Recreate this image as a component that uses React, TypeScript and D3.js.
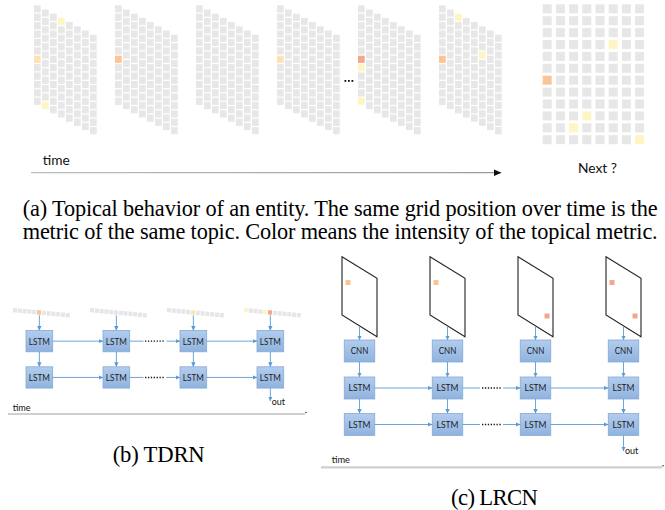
import React from 'react';
import * as d3 from 'd3';

const W = 665;
const H = 510;

// intensity levels of the topical metric
const intensityLevels = [1, 2, 3, 4];
const intensityColors = ['#fff4c4', '#fde3b2', '#f9c496', '#f4a88b'];

// (a) sequence of topic grids: [column, row, intensity]
const frame1 = [[0, 6, 2], [3, 0, 1], [1, 11, 1]];
const frame2 = [[0, 6, 3]];
const frame3: number[][] = [];
const frame4 = [[0, 6, 2]];
const frame5 = [[0, 6, 4], [0, 7, 1], [0, 11, 1]];
const frame6 = [[0, 6, 3], [2, 0, 1], [5, 3, 1]];
const sequenceFrames = [frame1, frame2, frame3, frame4, frame5, frame6];
const nextFrame = [[0, 6, 3], [5, 3, 1], [3, 9, 1], [2, 10, 1], [7, 11, 1]];
const gridCols = d3.range(8);
const gridRows = d3.range(12);

// (b) TDRN: flattened strips per time step: [cell, intensity]
const tdrnStrips = [[[5, 3]], [], [[5, 2]], [[0, 1], [4, 1], [5, 4]]];
const stripCells = d3.range(12);

// (c) LRCN: squares per frame: [corner (0 upper-left, 1 lower-right), intensity]
const lrcnFrames = [[[0, 3]], [[0, 3]], [[1, 4]], [[0, 4], [1, 4]]];

// captions
const captionA1 = '(a) Topical behavior of an entity. The same grid position over time is the';
const captionA2 = 'metric of the same topic. Color means the intensity of the topical metric.';
const captionB = '(b) TDRN';
const captionC = '(c) LRCN';

const color = d3.scaleOrdinal<number, string>().domain(intensityLevels).range(intensityColors);

const frameX = d3.scaleLinear().domain([0, 5]).range([34, 439]);
const colX = d3.scaleLinear().domain([0, 7]).range([0, 56]);
const rowY = d3.scaleLinear().domain([0, 11]).range([5.3, 97.7]);
const colShift = d3.scaleLinear().domain([0, 7]).range([0, 29.4]);

const nextX = d3.scaleLinear().domain([0, 7]).range([542.7, 635.1]);
const nextY = d3.scaleLinear().domain([0, 11]).range([4.3, 135.2]);

const tdrnX = d3.scaleLinear().domain([0, 3]).range([26, 257]);
const stripX = d3.scaleLinear().domain([0, 11]).range([0, 52.8]);
const stripY = d3.scaleLinear().domain([0, 11]).range([308, 313]);

const lrcnCX = d3.scaleLinear().domain([0, 3]).range([359.5, 623.5]);

const sans = 'Lato, "Open Sans", sans-serif';
const serif = "'Liberation Serif', 'Times New Roman', serif";
const blue = '#5b9bd5';

function Box({ x, y, w, h, label, tl }: { x: number; y: number; w: number; h: number; label: string; tl: number }) {
  return (
    <g>
      <rect x={x} y={y} width={w} height={h} fill="url(#boxGrad)" stroke="#86aad6" strokeWidth={0.8} />
      <text x={x + w / 2} y={y + h / 2 + 3.4} textAnchor="middle" fontFamily={sans} fontSize={9.5}
        fill="#1d1d1d" textLength={tl} lengthAdjust="spacingAndGlyphs">{label}</text>
    </g>
  );
}

function Arrow({ x1, y1, x2, y2 }: { x1: number; y1: number; x2: number; y2: number }) {
  return <line x1={x1} y1={y1} x2={x2} y2={y2} stroke={blue} strokeWidth={0.9} markerEnd="url(#blueHead)" />;
}

function Caption({ x, y, size, len, children }: { x: number; y: number; size: number; len: number; children: string }) {
  return (
    <text x={x} y={y} style={{ fontFamily: serif, fontSize: size }} fill="#000" textLength={len}
      lengthAdjust="spacing">{children}</text>
  );
}

export default function App() {
  const cellW = 6.7;
  const cellH = 7.2;

  // TDRN geometry
  const tW = 26.7, tH = 21.3;
  const tRow1 = 330.5, tRow2 = 366.8;

  // LRCN geometry
  const cW = 30.5, cH = 22;
  const cnnY = 340, lRow1 = 377, lRow2 = 413.5;

  return (
    <svg width={W} height={H} viewBox={`0 0 ${W} ${H}`}
      style={{ position: 'absolute', left: 0, top: 0, background: '#fff' }}>
      <defs>
        <marker id="blueHead" markerUnits="userSpaceOnUse" markerWidth={5} markerHeight={5} refX={4.5} refY={2.5} orient="auto">
          <path d="M0,0.3 L4.8,2.5 L0,4.7 z" fill={blue} />
        </marker>
        <marker id="blackHead" markerUnits="userSpaceOnUse" markerWidth={8} markerHeight={8} refX={7} refY={4} orient="auto">
          <path d="M0,0.8 L7.5,4 L0,7.2 z" fill="#111" />
        </marker>
        <linearGradient id="boxGrad" x1="0" y1="0" x2="0" y2="1">
          <stop offset="0" stopColor="#b2cced" />
          <stop offset="1" stopColor="#8fb3df" />
        </linearGradient>
        <linearGradient id="timeGrad" gradientUnits="userSpaceOnUse" x1={31} y1={0} x2={501} y2={0}>
          <stop offset="0" stopColor="#bdbdbd" />
          <stop offset="1" stopColor="#9c9c9c" />
        </linearGradient>
      </defs>

      {/* (a) sequence of grids */}
      {sequenceFrames.map((frame, fi) => {
        const x0 = frameX(fi);
        return (
          <g key={fi}>
            {gridCols.map(c => gridRows.map(r => {
              const hit = frame.find(h => h[0] === c && h[1] === r);
              return (
                <rect key={`${c}-${r}`} x={x0 + colX(c)} y={rowY(r) + colShift(c)} width={cellW} height={cellH}
                  fill={hit ? color(hit[2]) : '#e7e7e7'} />
              );
            }))}
          </g>
        );
      })}
      {[344.5, 348, 351.5].map((x, i) => (
        <rect key={i} x={x} y={80} width={1.8} height={1.8} fill="#111" />
      ))}

      {/* next grid */}
      {gridCols.map(c => gridRows.map(r => {
        const hit = nextFrame.find(h => h[0] === c && h[1] === r);
        return (
          <rect key={`n${c}-${r}`} x={nextX(c)} y={nextY(r)} width={9} height={9}
            fill={hit ? color(hit[2]) : '#e7e7e7'} />
        );
      }))}

      <text x={42.7} y={165} fontFamily={sans} fontSize={13} fill="#111" textLength={27} lengthAdjust="spacingAndGlyphs">time</text>
      <line x1={31} y1={172.7} x2={501} y2={172.7} stroke="url(#timeGrad)" strokeWidth={1.3} markerEnd="url(#blackHead)" />
      <text x={578} y={173} fontFamily={sans} fontSize={13.5} fill="#111" textLength={39} lengthAdjust="spacingAndGlyphs">Next ?</text>

      <Caption x={22.7} y={216} size={22.3} len={635}>{captionA1}</Caption>
      <Caption x={22.7} y={239} size={22.3} len={635}>{captionA2}</Caption>

      {/* (b) TDRN */}
      {tdrnStrips.map((strip, i) => {
        const bx = tdrnX(i);
        const cx = bx + tW / 2;
        const sx = bx - 13;
        return (
          <g key={`t${i}`}>
            {stripCells.map(k => {
              const hit = strip.find(h => h[0] === k);
              return (
                <rect key={k} x={sx + stripX(k)} y={stripY(k)} width={4} height={4.4}
                  fill={hit ? color(hit[1]) : '#e6e6e6'} />
              );
            })}
            <Arrow x1={cx} y1={stripY(5) + 5} x2={cx} y2={tRow1} />
            <Box x={bx} y={tRow1} w={tW} h={tH} label="LSTM" tl={21} />
            <Arrow x1={cx} y1={tRow1 + tH} x2={cx} y2={tRow2} />
            <Box x={bx} y={tRow2} w={tW} h={tH} label="LSTM" tl={21} />
            {i === 3 && (
              <g>
                <Arrow x1={cx} y1={tRow2 + tH} x2={cx} y2={401} />
                <text x={271.7} y={405} fontFamily={sans} fontSize={9} fill="#111">out</text>
              </g>
            )}
          </g>
        );
      })}
      {[tRow1 + tH / 2, tRow2 + tH / 2].map((y, ri) => (
        <g key={`th${ri}`}>
          <Arrow x1={tdrnX(0) + tW} y1={y} x2={tdrnX(1)} y2={y} />
          <line x1={tdrnX(1) + tW} y1={y} x2={143.5} y2={y} stroke={blue} strokeWidth={0.9} />
          <line x1={145} y1={y} x2={164} y2={y} stroke="#111" strokeWidth={1.4} strokeDasharray="1.3,1.6" />
          <Arrow x1={166.5} y1={y} x2={tdrnX(2)} y2={y} />
          <Arrow x1={tdrnX(2) + tW} y1={y} x2={tdrnX(3)} y2={y} />
        </g>
      ))}
      <text x={12.7} y={410.5} fontFamily={sans} fontSize={9} fill="#111" textLength={18} lengthAdjust="spacingAndGlyphs">time</text>
      <line x1={8} y1={414} x2={305} y2={414} stroke="#cfcfcf" strokeWidth={2.2} />
      <circle cx={306} cy={412.5} r={0.8} fill="#333" />

      <Caption x={112.7} y={461.5} size={22.7} len={92}>{captionB}</Caption>

      {/* (c) LRCN */}
      {lrcnFrames.map((sq, i) => {
        const cx = lrcnCX(i);
        const L = cx - 17.5;
        const pts: [number, number][] = [[L, 256.7], [L + 35, 278.3], [L + 35, 336.7], [L, 315]];
        const bx = cx - cW / 2;
        return (
          <g key={`c${i}`}>
            <polygon points={pts.map(p => p.join(',')).join(' ')} fill="#fff" stroke="#222" strokeWidth={1.1} />
            {sq.map((s, k) => (
              <rect key={k} x={s[0] === 0 ? L + 3.5 : L + 26.5} y={s[0] === 0 ? 280 : 313.5} width={5} height={5}
                fill={color(s[1])} />
            ))}
            <Arrow x1={cx} y1={326.5} x2={cx} y2={cnnY} />
            <Box x={bx} y={cnnY} w={cW} h={cH} label="CNN" tl={17.5} />
            <Arrow x1={cx} y1={cnnY + cH} x2={cx} y2={lRow1} />
            <Box x={bx} y={lRow1} w={cW} h={cH} label="LSTM" tl={22} />
            <Arrow x1={cx} y1={lRow1 + cH} x2={cx} y2={lRow2} />
            <Box x={bx} y={lRow2} w={cW} h={cH} label="LSTM" tl={22} />
            {i === 3 && (
              <g>
                <Arrow x1={cx} y1={lRow2 + cH} x2={cx} y2={451} />
                <text x={625} y={454} fontFamily={sans} fontSize={9} fill="#111">out</text>
              </g>
            )}
          </g>
        );
      })}
      {[lRow1 + cH / 2, lRow2 + cH / 2].map((y, ri) => (
        <g key={`ch${ri}`}>
          <Arrow x1={lrcnCX(0) + cW / 2} y1={y} x2={lrcnCX(1) - cW / 2} y2={y} />
          <line x1={lrcnCX(1) + cW / 2} y1={y} x2={480} y2={y} stroke={blue} strokeWidth={0.9} />
          <line x1={482} y1={y} x2={501} y2={y} stroke="#111" strokeWidth={1.4} strokeDasharray="1.3,1.6" />
          <Arrow x1={503} y1={y} x2={lrcnCX(2) - cW / 2} y2={y} />
          <Arrow x1={lrcnCX(2) + cW / 2} y1={y} x2={lrcnCX(3) - cW / 2} y2={y} />
        </g>
      ))}
      <text x={331.7} y={463.3} fontFamily={sans} fontSize={9} fill="#111" textLength={18.3} lengthAdjust="spacingAndGlyphs">time</text>
      <line x1={321} y1={467.3} x2={662} y2={467.3} stroke="#cfcfcf" strokeWidth={2.2} />
      <circle cx={663} cy={465.8} r={0.8} fill="#333" />

      <Caption x={451} y={505} size={22.7} len={87}>{captionC}</Caption>
    </svg>
  );
}
